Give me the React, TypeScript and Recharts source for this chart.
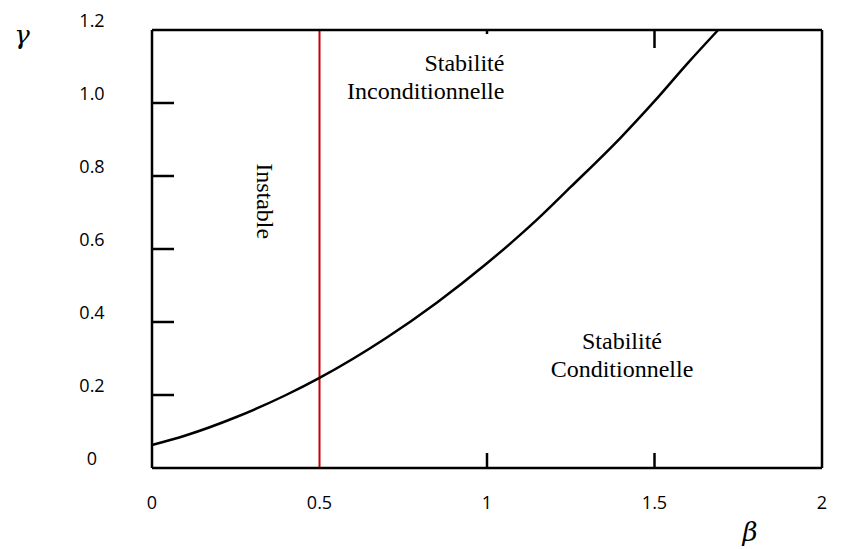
import { Line, LineChart, ReferenceDot, ReferenceLine, XAxis, YAxis } from "recharts";

// boundary curve gamma(beta)
const BETA = [0, 0.1, 0.25, 0.4, 0.5, 0.7, 0.85, 1.0, 1.15, 1.25, 1.4, 1.5, 1.6, 1.69];
const GAMMA = [0.063, 0.089, 0.139, 0.2, 0.247, 0.357, 0.453, 0.561, 0.681, 0.77, 0.906, 1.005, 1.11, 1.2];

const X_TICKS = [0, 0.5, 1, 1.5, 2];
const X_TICK_LABELS = ["0", "0.5", "1", "1.5", "2"];
const Y_TICKS = [0, 0.2, 0.4, 0.6, 0.8, 1.0, 1.2];
const Y_TICK_LABELS = ["0", "0.2", "0.4", "0.6", "0.8", "1.0", "1.2"];
const Y_MARKS = [0.2, 0.4, 0.6, 0.8, 1.0];
const X_MARKS = [1, 1.5];
const CRITICAL_BETA = 0.5;

const REGION_BETA = [1.052, 1.403, 0.312];
const REGION_GAMMA = [1.049, 0.289, 0.731];
const REGION_TEXT = [["Stabilité", "Inconditionnelle"], ["Stabilité", "Conditionnelle"], ["Instable"]];

const REGION_ANCHOR = ["end", "middle", "middle"];
const REGION_ROTATE = [0, 0, 90];

const W = 841;
const H = 549;
const PLOT = { left: 152, right: 822, top: 30, bottom: 468 };
const TOP_MARK_LEN: Record<number, number> = { 1: 4, 1.5: 18 };
const TICK_FONT = '"Open Sans", "Noto Sans", sans-serif';
const SERIF = '"Liberation Serif", "Times New Roman", serif';
const MATH = '"DejaVu Serif", serif';

const data = BETA.map((b, i) => ({ beta: b, gamma: GAMMA[i] }));

function LeftTick(props: any) {
  const { y, index, payload } = props;
  return (
    <g>
      {Y_MARKS.includes(payload.value) && (
        <line x1={PLOT.left} x2={PLOT.left + 22} y1={y} y2={y} stroke="#000" strokeWidth={2.5} />
      )}
      <text x={92} y={y - 3} textAnchor="middle" fontFamily={TICK_FONT} fontSize={18} fill="#000">
        {Y_TICK_LABELS[index]}
      </text>
    </g>
  );
}

function RightTick(props: any) {
  const { y, payload } = props;
  if (!Y_MARKS.includes(payload.value)) return <g />;
  return <line x1={PLOT.right - 22} x2={PLOT.right} y1={y} y2={y} stroke="#000" strokeWidth={2.5} />;
}

function BottomTick(props: any) {
  const { x, index, payload } = props;
  return (
    <g>
      {X_MARKS.includes(payload.value) && (
        <line x1={x} x2={x} y1={PLOT.bottom - 15} y2={PLOT.bottom} stroke="#000" strokeWidth={2.5} />
      )}
      <text x={x} y={509} textAnchor="middle" fontFamily={TICK_FONT} fontSize={18} fill="#000">
        {X_TICK_LABELS[index]}
      </text>
    </g>
  );
}

function TopTick(props: any) {
  const { x, payload } = props;
  if (!X_MARKS.includes(payload.value)) return <g />;
  const len = TOP_MARK_LEN[payload.value] ?? 12;
  return <line x1={x} x2={x} y1={PLOT.top} y2={PLOT.top + len} stroke="#000" strokeWidth={2.5} />;
}

function RegionLabel({ cx, cy, i }: { cx: number; cy: number; i: number }) {
  const lines = REGION_TEXT[i];
  const lh = 28;
  const start = cy - ((lines.length - 1) * lh) / 2;
  const rot = REGION_ROTATE[i];
  return (
    <text
      transform={rot ? `rotate(${rot} ${cx} ${cy})` : undefined}
      textAnchor={REGION_ANCHOR[i] as any}
      fontFamily={SERIF}
      fontSize={24}
      fill="#000"
    >
      {lines.map((l, k) => (
        <tspan key={k} x={cx} y={start + k * lh}>
          {l}
        </tspan>
      ))}
    </text>
  );
}

export default function App() {
  return (
    <div style={{ position: "absolute", left: 0, top: 0, width: W, height: H, background: "#fff" }}>
      <LineChart width={W} height={H} data={data} margin={{ top: 0, right: 0, bottom: 0, left: 0 }}>
        <XAxis
          xAxisId="bottom"
          dataKey="beta"
          type="number"
          domain={[0, 2]}
          ticks={X_TICKS}
          interval={0}
          height={H - PLOT.bottom}
          axisLine={{ stroke: "#000", strokeWidth: 2.5 }}
          tickLine={false}
          tick={<BottomTick />}
          label={{
            content: (p: any) => (
              <text x={p.viewBox.x + p.viewBox.width - 72} y={p.viewBox.y + 73} fontFamily={MATH} fontStyle="italic" fontSize={26} textAnchor="middle" fill="#000">
                β
              </text>
            ),
          }}
        />
        <XAxis
          xAxisId="top"
          orientation="top"
          dataKey="beta"
          type="number"
          domain={[0, 2]}
          ticks={X_TICKS}
          interval={0}
          height={PLOT.top}
          axisLine={{ stroke: "#000", strokeWidth: 2.5 }}
          tickLine={false}
          tick={<TopTick />}
        />
        <YAxis
          yAxisId="left"
          type="number"
          domain={[0, 1.2]}
          ticks={Y_TICKS}
          interval={0}
          width={PLOT.left}
          axisLine={{ stroke: "#000", strokeWidth: 2.5 }}
          tickLine={false}
          tick={<LeftTick />}
          label={{
            content: (p: any) => (
              <text x={p.viewBox.x + 22} y={p.viewBox.y + 14} fontFamily={MATH} fontStyle="italic" fontSize={26} textAnchor="middle" fill="#000">
                γ
              </text>
            ),
          }}
        />
        <YAxis
          yAxisId="right"
          orientation="right"
          type="number"
          domain={[0, 1.2]}
          ticks={Y_TICKS}
          interval={0}
          width={W - PLOT.right}
          axisLine={{ stroke: "#000", strokeWidth: 2.5 }}
          tickLine={false}
          tick={<RightTick />}
        />
        <ReferenceLine xAxisId="bottom" yAxisId="left" x={CRITICAL_BETA} stroke="#c80000" strokeWidth={2} />
        <Line
          xAxisId="bottom"
          yAxisId="left"
          type="monotone"
          dataKey="gamma"
          stroke="#000"
          strokeWidth={2.5}
          dot={false}
          isAnimationActive={false}
        />
        {REGION_TEXT.map((_, i) => (
          <ReferenceDot
            key={i}
            xAxisId="bottom"
            yAxisId="left"
            x={REGION_BETA[i]}
            y={REGION_GAMMA[i]}
            r={0}
            ifOverflow="visible"
            shape={(p: any) => <RegionLabel cx={p.cx} cy={p.cy} i={i} />}
          />
        ))}
      </LineChart>
    </div>
  );
}
